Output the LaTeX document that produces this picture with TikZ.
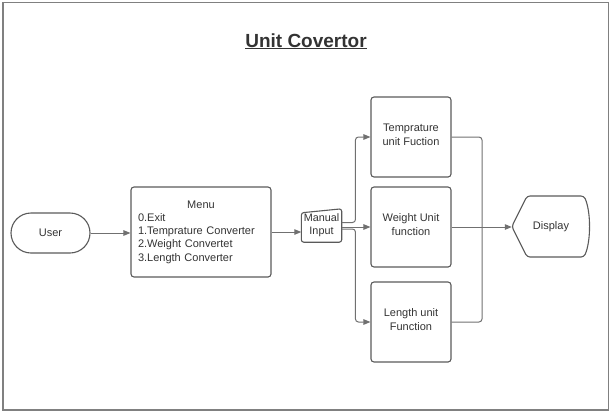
\documentclass[tikz,border=0pt]{standalone}
\usepackage{fontspec}
\setmainfont{Liberation Sans}
\usetikzlibrary{arrows.meta,calc}
\definecolor{boxc}{HTML}{5A5A5A}
\definecolor{linec}{HTML}{707070}
\definecolor{framec}{HTML}{808080}
\definecolor{textc}{HTML}{333333}
\begin{document}
\begin{tikzpicture}[x=1pt,y=-1pt,
  box/.style={draw=boxc, line width=1.1pt, rounded corners=3pt, text=textc,
    font=\fontsize{11}{14}\selectfont, align=center, inner sep=0pt},
  fbox/.style={box, minimum width=80, minimum height=80, text depth=4pt},
  plain/.style={text=textc, font=\fontsize{11}{14}\selectfont, align=center, inner sep=0pt},
  outline/.style={draw=boxc, line width=1.1pt},
  conn/.style={draw=linec, line width=1pt},
  arr/.style={conn, -{Triangle[length=7pt,width=5.5pt]}}]
\useasboundingbox (0,0) rectangle (612,413);
\draw[framec, line width=1.5pt] (3,2.5) rectangle (608.5,410);
\node[font=\bfseries\fontsize{19}{22}\selectfont, text=textc, anchor=base, inner sep=0pt] (title) at (306,47) {\underline{Unit Covertor}};

\node[box, rounded corners=20pt, minimum width=79, minimum height=40] (user) at (50.5,233) {User};
\node[box, minimum width=140, minimum height=90, text width=126pt, align=left,
  font=\fontsize{11}{13.3}\selectfont] (menu) at (201,232)
  {\makebox[126pt]{Menu}\\0.Exit\\1.Temprature Converter\\2.Weight Convertet\\3.Length Converter};
\node[plain, font=\fontsize{10.8}{13}\selectfont, minimum width=40, minimum height=33] (mi) at (321.5,225.5) {Manual\\Input};
\draw[outline, rounded corners=2.5pt] (mi.south west) -- ([yshift=-4pt]mi.north west) -- (mi.north east) -- (mi.south east) -- cycle;

\node[fbox] (temp) at (411,137) {Temprature\\unit Fuction};
\node[fbox] (wt) at (411,227) {Weight Unit\\function};
\node[fbox] (len) at (411,322) {Length unit\\Function};

\node[plain, minimum width=78, minimum height=61] (disp) at (551,226.5) {Display};
\draw[outline, rounded corners=3pt] (disp.west) -- (527,196) -- (584,196) .. controls (591,212) and (591,241) .. (584,257) -- (527,257) -- cycle;

\draw[arr] (user.east) -- (user.east -| menu.west);
\draw[arr] (menu.east) -- (menu.east -| mi.west);
\draw[arr, rounded corners=3pt] ([yshift=3pt]mi.east) -| ([xshift=-15pt]temp.west) -- (temp.west);
\draw[arr] (wt.west -| mi.east) -- (wt.west);
\draw[arr, rounded corners=3pt] ([yshift=-3.5pt]mi.east) -| ([xshift=-15pt]len.west) -- (len.west);

\coordinate (j) at (482,227);
\draw[conn, rounded corners=3pt] (temp.east) -| (j);
\draw[conn, rounded corners=3pt] (len.east) -| (j);
\draw[arr] (wt.east) -- (wt.east -| disp.west);
\end{tikzpicture}
\end{document}
